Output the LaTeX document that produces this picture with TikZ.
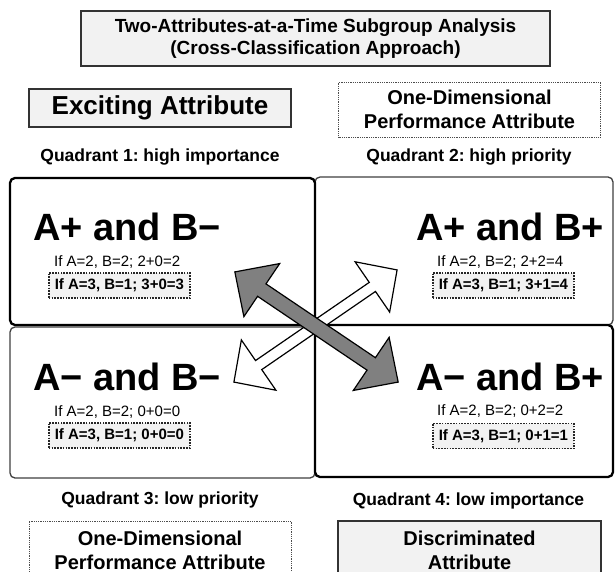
\documentclass[tikz,border=0pt]{standalone}
\usepackage{fontspec}
\setmainfont{Liberation Sans}
\usepackage{tikz}
\usetikzlibrary{positioning}
\definecolor{boxgray}{HTML}{F2F2F2}
\definecolor{arrowgray}{HTML}{808080}
\frenchspacing
\tikzset{
  headbox/.style={draw=black!80, line width=1.3pt, fill=boxgray, align=center,
    font=\bfseries, inner sep=0pt},
  dotbox/.style={draw=black!70, line width=0.9pt, dash pattern=on 0.9pt off 0.9pt,
    fill=white, align=center, font=\bfseries, inner sep=0pt},
  quadthin/.style={draw=black!75, line width=1.3pt, rounded corners=5pt, fill=white,
    inner sep=0pt},
  quadthick/.style={draw=black, line width=2.3pt, rounded corners=5pt, inner sep=0pt},
  quadlabel/.style={font=\fontsize{17.5}{21}\selectfont\bfseries},
  biglabel/.style={font=\fontsize{38}{44}\selectfont\bfseries, anchor=base west, inner sep=0pt},
  sublabel/.style={font=\fontsize{15}{18}\selectfont, anchor=west, inner sep=0pt},
  dotlabel/.style={draw=black!85, line width=1.6pt, dash pattern=on 1.6pt off 1.2pt,
    fill=boxgray, font=\fontsize{15}{18}\selectfont\bfseries, anchor=west,
    inner xsep=6pt, inner ysep=0pt, minimum height=25pt},
  crossarrow/.style={draw=black, line width=1.2pt, line join=miter},
}

\begin{document}
\begin{tikzpicture}[x=1pt, y=-1pt]
  \useasboundingbox (0,0) rectangle (615,572);
  % headings
  \node[headbox, minimum width=469pt, minimum height=55pt,
    font=\fontsize{19}{22.5}\selectfont\bfseries] (title) at (315.5,38.5)
    {Two-Attributes-at-a-Time Subgroup Analysis\\(Cross-Classification Approach)};
  \node[headbox, minimum width=262pt, minimum height=38pt,
    font=\fontsize{26}{30}\selectfont\bfseries] (exciting) at (160,108) {Exciting Attribute};
  \node[dotbox, minimum width=262pt, minimum height=55pt,
    font=\fontsize{20}{24}\selectfont\bfseries] (onedimtop) at (469.5,109.5)
    {One-Dimensional\\Performance Attribute};
  \node[quadlabel] (labelone) at (160,157) {Quadrant 1: high importance};
  \node[quadlabel] (labeltwo) at (469,157) {Quadrant 2: high priority};
  % quadrants
  \node[quadthin, minimum width=298pt, minimum height=148pt] (quadtwo) at (464,251) {};
  \node[quadthin, minimum width=305pt, minimum height=151pt] (quadthree) at (162.5,402.5) {};
  \node[quadthick, minimum width=305pt, minimum height=147pt] (quadone) at (162.5,251.5) {};
  \node[quadthick, minimum width=298pt, minimum height=152pt] (quadfour) at (464,401) {};
  % quadrant 1
  \node[biglabel] (bigone) at (33,240) {A+ and B−};
  \node[sublabel] (subone) at (54,262) {If A=2, B=2; 2+0=2};
  \node[dotlabel] (dotone) at (48,285.5) {If A=3, B=1; 3+0=3};
  % quadrant 2
  \node[biglabel] (bigtwo) at (416,240) {A+ and B+};
  \node[sublabel] (subtwo) at (437,262) {If A=2, B=2; 2+2=4};
  \node[dotlabel] (dottwo) at (432,285.5) {If A=3, B=1; 3+1=4};
  % quadrant 3
  \node[biglabel] (bigthree) at (33,390) {A− and B−};
  \node[sublabel] (subthree) at (54,412) {If A=2, B=2; 0+0=0};
  \node[dotlabel] (dotthree) at (48,435.5) {If A=3, B=1; 0+0=0};
  % quadrant 4
  \node[biglabel] (bigfour) at (416,390) {A− and B+};
  \node[sublabel] (subfour) at (437,411.5) {If A=2, B=2; 0+2=2};
  \node[dotlabel] (dotfour) at (432,436) {If A=3, B=1; 0+1=1};
  % crossing arrows
  \begin{scope}[shift={(315.5,326)}, rotate=34.5]
    \draw[crossarrow, fill=white] (-99,0) -- (-69,30.5) -- (-69,5.5) -- (69,5.5)
      -- (69,30.5) -- (99,0) -- (69,-30.5) -- (69,-5.5) -- (-69,-5.5) -- (-69,-30.5) -- cycle;
  \end{scope}
  \begin{scope}[shift={(316.5,327)}, rotate=-34]
    \draw[crossarrow, fill=arrowgray] (-98.5,0) -- (-66,32) -- (-66,7.5) -- (66,7.5)
      -- (66,32) -- (98.5,0) -- (66,-32) -- (66,-7.5) -- (-66,-7.5) -- (-66,-32) -- cycle;
  \end{scope}
  % bottom headings
  \node[quadlabel] (labelthree) at (160,500) {Quadrant 3: low priority};
  \node[quadlabel] (labelfour) at (468.5,501) {Quadrant 4: low importance};
  \node[dotbox, minimum width=262pt, minimum height=58pt,
    font=\fontsize{20}{24}\selectfont\bfseries] (onedimbot) at (160,550)
    {One-Dimensional\\Performance Attribute};
  \node[headbox, minimum width=263pt, minimum height=58pt,
    font=\fontsize{20}{24}\selectfont\bfseries] (discrim) at (469.5,550)
    {Discriminated\\Attribute};
\end{tikzpicture}
\end{document}
